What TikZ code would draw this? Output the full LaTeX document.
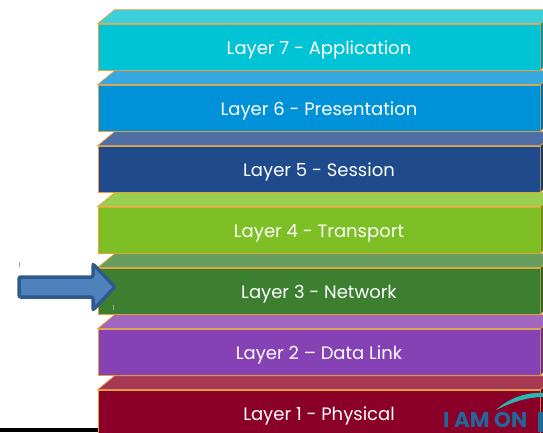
\documentclass[tikz,border=0pt]{standalone}
\usepackage{fontspec}
\setmainfont{Poppins}
\definecolor{edgeorange}{HTML}{E8A23A}
\definecolor{lsevenfront}{HTML}{00C4D5}
\definecolor{lseventop}{HTML}{3BD0DC}
\definecolor{lsevenside}{HTML}{0098A8}
\definecolor{lsixfront}{HTML}{0092D8}
\definecolor{lsixtop}{HTML}{36A9E0}
\definecolor{lsixside}{HTML}{0070A8}
\definecolor{lfivefront}{HTML}{1F4A8B}
\definecolor{lfivetop}{HTML}{4E6FA6}
\definecolor{lfiveside}{HTML}{173A6E}
\definecolor{lfourfront}{HTML}{7DBF24}
\definecolor{lfourtop}{HTML}{9ACF4F}
\definecolor{lfourside}{HTML}{62981A}
\definecolor{lthreefront}{HTML}{3C7F31}
\definecolor{lthreetop}{HTML}{679E5E}
\definecolor{lthreeside}{HTML}{2E6326}
\definecolor{ltwofront}{HTML}{8641B4}
\definecolor{ltwotop}{HTML}{A066C0}
\definecolor{ltwoside}{HTML}{68318D}
\definecolor{lonefront}{HTML}{8A0029}
\definecolor{lonetop}{HTML}{A63A55}
\definecolor{loneside}{HTML}{6A0020}
\definecolor{arrowfill}{HTML}{4F81BD}
\definecolor{arrowedge}{HTML}{2E5A8C}
\definecolor{baseline}{HTML}{5B8FCB}
\definecolor{logoblue}{HTML}{22679A}
\definecolor{logoteal}{HTML}{2BB5B0}
\begin{document}
\begin{tikzpicture}[
        x=1pt, y=-1pt,
        layer/.style={rectangle, draw=edgeorange, line width=0.7pt, minimum width=442pt, minimum height=46pt, inner sep=0pt, text height=15pt, text depth=1pt, text=white, font=\fontsize{18}{20}\selectfont},
        face/.style={draw=edgeorange, line width=0.7pt},
        every node/.style={anchor=center}
        ]
      \useasboundingbox (0,0) rectangle (543,432);
      \clip (0,0) rectangle (543,432);
      % base line under the stack
      \fill[baseline] (0,428) rectangle (300,432);

      \node[layer, fill=lsevenfront] (l7) at (319,47) {Layer 7 - Application};
      \node[layer, fill=lsixfront] (l6) at (319,108) {Layer 6 - Presentation};
      \node[layer, fill=lfivefront] (l5) at (319,169) {Layer 5 - Session};
      \node[layer, fill=lfourfront] (l4) at (319,230) {Layer 4 - Transport};
      \node[layer, fill=lthreefront] (l3) at (319,291) {Layer 3 - Network};
      \node[layer, fill=ltwofront] (l2) at (319,352) {Layer 2 – Data Link};
      \node[layer, fill=lonefront] (l1) at (319,413) {Layer 1 - Physical};

      % top and side faces
      \filldraw[face, fill=lseventop] (l7.north west) -- ++(17,-14) -- ++(442,0) -- (l7.north east) -- cycle;
      \filldraw[face, fill=lsevenside] (l7.north east) -- ++(17,-14) -- ++(0,46) -- (l7.south east) -- cycle;
      \filldraw[face, fill=lsixtop] (l6.north west) -- ++(17,-14) -- ++(442,0) -- (l6.north east) -- cycle;
      \filldraw[face, fill=lsixside] (l6.north east) -- ++(17,-14) -- ++(0,46) -- (l6.south east) -- cycle;
      \filldraw[face, fill=lfivetop] (l5.north west) -- ++(17,-14) -- ++(442,0) -- (l5.north east) -- cycle;
      \filldraw[face, fill=lfiveside] (l5.north east) -- ++(17,-14) -- ++(0,46) -- (l5.south east) -- cycle;
      \filldraw[face, fill=lfourtop] (l4.north west) -- ++(17,-14) -- ++(442,0) -- (l4.north east) -- cycle;
      \filldraw[face, fill=lfourside] (l4.north east) -- ++(17,-14) -- ++(0,46) -- (l4.south east) -- cycle;
      \filldraw[face, fill=lthreetop] (l3.north west) -- ++(17,-14) -- ++(442,0) -- (l3.north east) -- cycle;
      \filldraw[face, fill=lthreeside] (l3.north east) -- ++(17,-14) -- ++(0,46) -- (l3.south east) -- cycle;
      \filldraw[face, fill=ltwotop] (l2.north west) -- ++(17,-14) -- ++(442,0) -- (l2.north east) -- cycle;
      \filldraw[face, fill=ltwoside] (l2.north east) -- ++(17,-14) -- ++(0,46) -- (l2.south east) -- cycle;
      \filldraw[face, fill=lonetop] (l1.north west) -- ++(17,-14) -- ++(442,0) -- (l1.north east) -- cycle;
      \filldraw[face, fill=loneside] (l1.north east) -- ++(17,-14) -- ++(0,46) -- (l1.south east) -- cycle;

      % arrow pointing at the network layer
      \coordinate (tip) at (115,287);
      \filldraw[fill=arrowfill, draw=arrowedge, line width=3.5pt, rounded corners=2pt]
        (19,277) -- (93,277) -- (93,264) -- (tip) -- (93,310) -- (93,297) -- (19,297) -- cycle;
      \draw[gray!70, line width=0.6pt] (19,262) -- (19,267);
      \draw[gray!70, line width=0.6pt] (113,305) -- (113,310);

      % logo
      \node[anchor=base west, inner sep=0pt, text=logoblue, font=\fontsize{21.5}{22}\bfseries\selectfont] (logo) at (443,427.5) {I AM ON};
      \fill[logoblue] (538,412) rectangle (543,432);
      \fill[logoteal] (496,410) .. controls (510,397) and (528,392) .. (543,393) -- (543,397) .. controls (528,397) and (512,402) .. cycle;
    \end{tikzpicture}
\end{document}
